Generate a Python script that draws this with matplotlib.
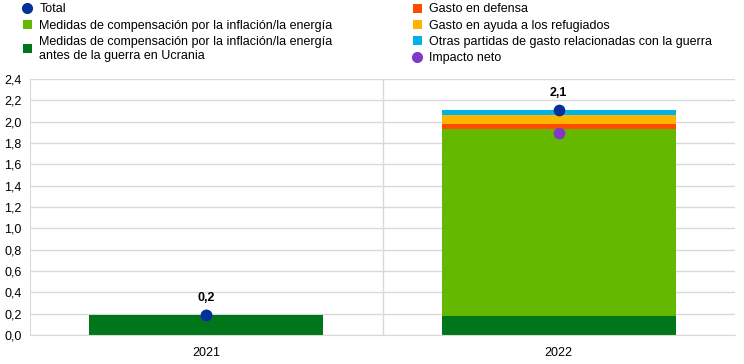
import matplotlib.pyplot as plt
from matplotlib.lines import Line2D
from matplotlib.patches import Patch
import numpy as np

plt.rcParams['font.family'] = ['Liberation Sans', 'DejaVu Sans']

# Data
years = ['2021', '2022']
pre_war = [0.19, 0.18]
inflation_energy = [0.0, 1.75]
defence = [0.0, 0.045]
refugees = [0.0, 0.085]
other_war = [0.0, 0.05]
total = [0.19, 2.11]
net_impact = [0.19, 1.89]
total_labels = ['0,2', '2,1']

colors = {
    'pre': '#00761a',
    'infl': '#65b800',
    'def': '#ff4b00',
    'ref': '#ffb400',
    'oth': '#00b1ea',
    'total': '#003299',
    'net': '#8139c6',
}

fig = plt.figure(figsize=(7.44, 3.64), dpi=100)
ax = fig.add_axes([30 / 744, 29 / 364, 705 / 744, 256 / 364])

x = np.arange(len(years))
w = 0.665
bottom = np.zeros(len(years))
for vals, c in [(pre_war, colors['pre']), (inflation_energy, colors['infl']),
                (defence, colors['def']), (refugees, colors['ref']),
                (other_war, colors['oth'])]:
    ax.bar(x, vals, w, bottom=bottom, color=c, zorder=2)
    bottom += np.array(vals)

ax.scatter(x, net_impact, s=55, color=colors['net'], zorder=3)
ax.scatter(x, total, s=55, color=colors['total'], zorder=4)
for xi, t, lab in zip(x, total, total_labels):
    ax.text(xi, t + 0.1, lab, ha='center', va='bottom', fontsize=9, fontweight='bold')

ax.set_xlim(-0.5, 1.5)
ax.set_ylim(0, 2.4)
yt = np.arange(0, 2.41, 0.2)
ax.set_yticks(yt)
ax.set_yticklabels([f'{v:.1f}'.replace('.', ',') for v in yt], fontsize=9)
ax.set_xticks(x)
ax.set_xticklabels(years, fontsize=9)
ax.tick_params(axis='y', length=0, pad=6)
ax.tick_params(axis='x', length=0, pad=9)
ax.grid(axis='y', color='#d9d9d9', linewidth=1, zorder=0)
ax.axvline(0.5, color='#d9d9d9', linewidth=1, zorder=0)
for s in ['top', 'right']:
    ax.spines[s].set_visible(False)
for s in ['left', 'bottom']:
    ax.spines[s].set_color('#d9d9d9')

def sq(c):
    return Patch(facecolor=c, edgecolor='none')

def dot(c):
    return Line2D([], [], marker='o', linestyle='none', markersize=7, color=c)

h1 = [dot(colors['total']), sq(colors['infl']), sq(colors['pre'])]
l1 = ['Total', 'Medidas de compensación por la inflación/la energía',
      'Medidas de compensación por la inflación/la energía\nantes de la guerra en Ucrania']
h2 = [sq(colors['def']), sq(colors['ref']), sq(colors['oth']), dot(colors['net'])]
l2 = ['Gasto en defensa', 'Gasto en ayuda a los refugiados',
      'Otras partidas de gasto relacionadas con la guerra', 'Impacto neto']

leg_kw = dict(frameon=False, fontsize=9, handlelength=0.7, handleheight=0.7,
              handletextpad=0.6, labelspacing=0.33, borderaxespad=0, borderpad=0)
fig.legend(h1, l1, loc='upper left', bbox_to_anchor=(23 / 744, 1 - 3.5 / 364), **leg_kw)
fig.legend(h2, l2, loc='upper left', bbox_to_anchor=(413 / 744, 1 - 3.5 / 364), **leg_kw)

fig.savefig('out.png', dpi=100)
